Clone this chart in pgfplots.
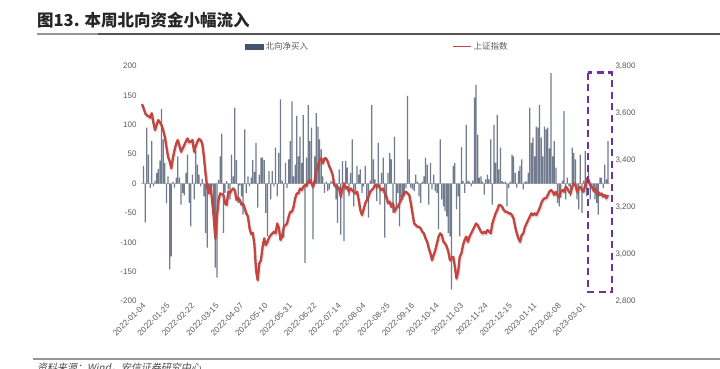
\documentclass[border=0pt]{standalone}
\usepackage{pgfplots}
\pgfplotsset{compat=1.18}
\usepackage{pgfplotstable}
\usepackage{fontspec}
\setmainfont{Liberation Sans}
\newfontfamily\cjk{Noto Sans CJK SC}
\newfontfamily\cjksl[FakeSlant=0.2]{Noto Sans CJK SC}
\definecolor{barc}{RGB}{112,123,141}
\definecolor{navy}{RGB}{68,84,106}
\definecolor{redl}{RGB}{196,68,64}
\definecolor{purp}{RGB}{112,48,160}
\definecolor{tickc}{RGB}{89,89,89}

% daily northbound net buy (100m CNY)
\pgfplotstableread[row sep=\\]{
v\\0\\30\\-66\\95\\49\\-8\\72\\-5\\5\\18\\
25\\39\\127\\75\\35\\-34\\12\\-146\\-124\\3\\
-7\\10\\46\\10\\-36\\-16\\-20\\18\\49\\-33\\
-73\\15\\-27\\55\\32\\15\\-5\\8\\-22\\-84\\
-109\\-12\\-16\\-5\\-67\\-143\\-160\\6\\46\\85\\
-84\\-16\\4\\-10\\-27\\49\\12\\129\\40\\-33\\
-3\\-22\\-53\\92\\-16\\12\\-5\\10\\40\\20\\
69\\-41\\15\\44\\44\\40\\-50\\-90\\21\\-27\\
21\\-5\\61\\-22\\52\\143\\5\\-92\\35\\-8\\
41\\72\\140\\12\\32\\115\\46\\80\\35\\117\\
-135\\44\\134\\72\\95\\-95\\46\\120\\97\\75\\
58\\12\\-16\\3\\-13\\-10\\4\\3\\3\\-27\\
-67\\24\\-87\\38\\-98\\38\\27\\-22\\18\\75\\
-39\\-13\\30\\15\\24\\-16\\-5\\30\\-27\\-58\\
5\\
134\\41\\7\\-30\\69\\-36\\18\\44\\-92\\-27\\
18\\52\\41\\-50\\80\\-44\\-16\\-73\\-24\\-27\\
-22\\-8\\149\\41\\-7\\-10\\-13\\15\\3\\-22\\
-33\\3\\12\\44\\32\\-36\\35\\-10\\15\\-13\\
-16\\-78\\75\\-27\\-39\\-47\\-56\\-84\\-90\\-180\\
30\\35\\-44\\-22\\-90\\62\\4\\-16\\100\\5\\
3\\-5\\5\\146\\168\\83\\10\\12\\3\\-19\\
7\\15\\7\\75\\
-36\\100\\35\\117\\24\\61\\4\\2\\3\\-39\\
-8\\3\\49\\46\\18\\-7\\21\\30\\41\\-10\\
3\\3\\18\\129\\69\\78\\46\\97\\95\\134\\
78\\46\\97\\92\\95\\60\\188\\46\\72\\27\\
-33\\-39\\-24\\5\\123\\-27\\10\\-5\\-22\\61\\
52\\41\\-27\\-44\\49\\-50\\5\\55\\-22\\21\\
-27\\-3\\-15\\-27\\-33\\-53\\10\\10\\-8\\32\\
7\\72\\
}\flowtab

% Shanghai Composite index
\pgfplotstableread[row sep=\\]{
v\\3638\\3620\\3599\\3590\\3587\\3580\\3599\\3560\\3528\\3550\\
3570\\3560\\3549\\3528\\3500\\3457\\3414\\3395\\3365\\3410\\
3443\\3470\\3485\\3460\\3435\\3450\\3464\\3480\\3492\\3475\\
3478\\3485\\3435\\3460\\3478\\3490\\3485\\3470\\3414\\3343\\
3286\\3258\\3293\\3230\\3159\\3067\\3159\\3230\\3258\\3255\\
3251\\3216\\3209\\3266\\3260\\3272\\3279\\3270\\3230\\3240\\
3230\\3210\\3215\\3195\\3173\\3160\\3110\\3085\\3090\\3040\\
2930\\2889\\2960\\2974\\3030\\3067\\3038\\3052\\3070\\3081\\
3088\\3095\\3088\\3130\\3110\\3060\\3075\\3116\\3123\\3130\\
3159\\3180\\3180\\3201\\3237\\3258\\3258\\3279\\3272\\3286\\
3293\\3290\\3308\\3315\\3301\\3286\\3315\\3357\\3379\\3400\\
3407\\3386\\3407\\3407\\3393\\3372\\3357\\3336\\3294\\3286\\
3286\\3279\\3244\\3279\\3301\\3279\\3286\\3265\\3279\\3272\\
3265\\3258\\3265\\3230\\3187\\3166\\3190\\3216\\3230\\3244\\
3265\\3272\\3280\\3294\\3286\\3294\\3280\\3272\\3279\\3258\\
3244\\3216\\3223\\3201\\3216\\3180\\3195\\3201\\3216\\3230\\
3251\\3258\\3265\\3258\\3251\\3216\\3173\\3130\\3123\\3116\\
3116\\3109\\3095\\3088\\3067\\3052\\3024\\3003\\2974\\2996\\
3017\\3045\\3074\\3088\\3081\\3052\\3045\\3031\\3010\\2974\\
2981\\2988\\2946\\2896\\2925\\2989\\3003\\3038\\3060\\3074\\
3052\\3074\\3088\\3102\\3116\\3130\\3123\\3109\\3095\\3088\\
3095\\3088\\3102\\3095\\3088\\3130\\3152\\3173\\3187\\3208\\
3208\\3201\\3187\\3180\\3180\\3173\\3173\\3166\\3152\\3116\\
3088\\3067\\3052\\3081\\3088\\3116\\3130\\3145\\3159\\3173\\
3166\\3173\\3166\\3180\\3195\\3216\\3230\\3237\\3237\\3251\\
3265\\3272\\3265\\3251\\3265\\3251\\3244\\3265\\3272\\3265\\
3286\\3279\\3265\\3258\\3286\\3301\\3294\\3265\\3279\\3286\\
3272\\3265\\3294\\3322\\3315\\3294\\3286\\3272\\3279\\3258\\
3265\\3251\\3258\\3244\\3251\\3237\\3251\\
}\idxtab

\begin{document}
\begin{tikzpicture}[x=1pt,y=1pt]
\useasboundingbox (0,0) rectangle (720,-368);
% title
\node[anchor=base west, inner sep=0pt, text=black!85] at (37,-26.5)
  {\cjk\bfseries\fontsize{16.5}{18}\selectfont 图13. 本周北向资金小幅流入};
\draw[color={rgb,255:red,85;green,85;blue,85}, line width=1.1pt] (98,-34) -- (720,-34);
\draw[color={rgb,255:red,150;green,150;blue,150}, line width=2pt] (37,-34) -- (98,-34);

\begin{axis}[
  at={(141pt,-301pt)}, anchor=south west,
  scale only axis, width=469pt, height=235pt,
  xmin=-0.6, xmax=287.2, ymin=-200, ymax=200,
  ytick={-200,-150,...,200},
  xtick={0,15,...,270},
  xticklabels={2022-01-04,2022-01-25,2022-02-22,2022-03-15,2022-04-07,2022-05-10,2022-05-31,2022-06-22,2022-07-14,2022-08-04,2022-08-25,2022-09-16,2022-10-14,2022-11-03,2022-11-24,2022-12-15,2023-01-11,2023-02-08,2023-03-01},
  axis line style={draw=none},
  major tick length=0pt,
  tick label style={font=\fontsize{8}{9}\selectfont, text=tickc},
  x tick label style={rotate=45, anchor=north east, inner sep=1pt, font=\fontsize{8.2}{9}\selectfont},
  yticklabel style={xshift=-1pt},
  /pgf/number format/assume math mode=true,
  clip=false,
]
\draw[color={rgb,255:red,200;green,200;blue,200}, line width=1.4pt] (axis cs:-0.6,0) -- (axis cs:287.2,0);
\addplot[ybar, bar width=1.25pt, fill=barc, draw=none] table[x expr=\coordindex, y=v]{\flowtab};
\end{axis}

\begin{axis}[
  at={(141pt,-301pt)}, anchor=south west,
  scale only axis, width=469pt, height=235pt,
  xmin=-0.6, xmax=287.2, ymin=2800, ymax=3800,
  ytick={2800,3000,...,3800},
  yticklabel pos=right,
  hide x axis,
  axis line style={draw=none},
  major tick length=0pt,
  tick label style={font=\fontsize{8}{9}\selectfont, text=tickc},
  yticklabel style={xshift=2pt},
  /pgf/number format/.cd, 1000 sep={,}, assume math mode=true,
  /pgfplots/.cd,
  legend columns=2,
  legend style={at={(axis description cs:0.2217,1.082)}, anchor=west, draw=none, fill=none,
    font=\fontsize{8.5}{10}\selectfont, text=tickc, inner sep=0pt,
    /tikz/every even column/.append style={column sep=142pt}},
  legend cell align=left,
  clip=false,
]
\addlegendimage{legend image code/.code={\fill[navy] (0pt,-2.2pt) rectangle (18pt,2.2pt);}}
\addlegendentry{\cjk 北向净买入}
\addplot[black, opacity=0.13, line width=3pt, no marks, line join=round, forget plot,
  transform canvas={xshift=0.6pt, yshift=-1.3pt}] table[x expr=\coordindex, y=v]{\idxtab};
\addplot[redl, line width=2.3pt, no marks, line join=round,
  legend image code/.code={\draw[redl, line width=1.5pt] (0pt,0pt) -- (18pt,0pt);}]
  table[x expr=\coordindex, y=v]{\idxtab};
\addlegendentry{\cjk 上证指数}
\end{axis}

% highlight box
\draw[purp, line width=2.2pt, dash pattern=on 7pt off 4.5pt] (588,-72.5) rectangle (612,-292);

% footer
\draw[color={rgb,255:red,150;green,150;blue,150}, line width=1.8pt] (33,-359) -- (720,-359);
\node[anchor=base west, inner sep=0pt, text=black!70] at (37,-371)
  {\cjksl\fontsize{10}{12}\selectfont 资料来源：Wind，安信证券研究中心};
\end{tikzpicture}
\end{document}
